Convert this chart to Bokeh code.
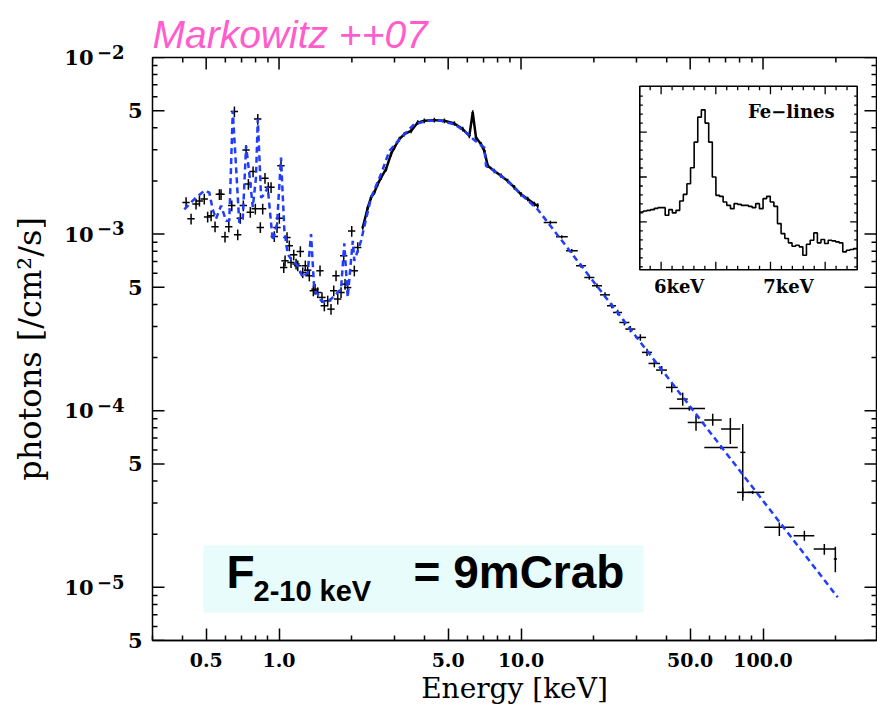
import math
from bokeh.plotting import figure
from bokeh.models import FixedTicker, Range1d, LinearScale, Label, BoxAnnotation, LogAxis
from bokeh.embed import file_html
from bokeh.resources import INLINE
from bokeh.core.properties import value

# ---------------- data ----------------
# model (blue dashed): energy [keV], photons/cm2/s
model_E = [0.406, 0.447, 0.491, 0.515, 0.532, 0.549, 0.576, 0.604, 0.623, 0.644,
           0.685, 0.708, 0.731, 0.754, 0.779, 0.803, 0.817, 0.843, 0.870, 0.898,
           0.942, 0.981, 1.019, 1.052, 1.086, 1.121, 1.195, 1.253, 1.314, 1.356,
           1.399, 1.445, 1.491, 1.564, 1.640, 1.720, 1.804, 1.861, 1.922, 2.017,
           2.047, 2.182, 2.40, 2.64, 2.857, 3.19, 3.62, 4.12, 4.67, 5.30,
           5.83, 6.22, 7.05, 7.17, 7.76, 8.81, 10.0, 11.72, 203.5]
model_F = [1.38e-3, 1.58e-3, 1.76e-3, 1.72e-3, 1.38e-3, 1.22e-3, 1.45e-3, 1.19e-3, 1.19e-3, 4.99e-3,
           1.16e-3, 1.22e-3, 3.16e-3, 2.19e-3, 1.42e-3, 2.09e-3, 4.48e-3, 1.61e-3, 1.68e-3, 1.84e-3,
           9.16e-4, 1.14e-3, 2.71e-3, 1.05e-3, 7.70e-4, 7.22e-4, 6.62e-4, 5.68e-4, 6.07e-4, 1.00e-3,
           4.78e-4, 4.57e-4, 4.20e-4, 4.10e-4, 4.29e-4, 4.57e-4, 4.89e-4, 8.87e-4, 4.38e-4, 9.16e-4,
           7.06e-4, 9.16e-4, 1.61e-3, 2.19e-3, 2.96e-3, 3.52e-3, 4.19e-3, 4.38e-3, 4.38e-3, 4.19e-3,
           3.84e-3, 3.52e-3, 3.09e-3, 2.43e-3, 2.28e-3, 2.00e-3, 1.68e-3, 1.38e-3, 8.78e-6]

# soft-band data points (crosses)
soft_E = [0.413, 0.433, 0.454, 0.469, 0.491, 0.507, 0.524, 0.544, 0.567, 0.576,
          0.598, 0.620, 0.638, 0.654, 0.675, 0.692, 0.712, 0.731, 0.747, 0.761,
          0.781, 0.798, 0.817, 0.837, 0.856, 0.875, 0.903, 0.927, 0.956, 0.981,
          1.003, 1.019, 1.046, 1.059, 1.079, 1.103, 1.121, 1.150, 1.176, 1.195,
          1.225, 1.253, 1.284, 1.314, 1.334, 1.386, 1.409, 1.445, 1.477, 1.505,
          1.539, 1.589, 1.640, 1.683, 1.720, 1.748, 1.804, 1.851, 1.874, 1.922,
          1.997, 2.047, 2.115]
soft_F = [1.51e-3, 1.22e-3, 1.48e-3, 1.54e-3, 1.58e-3, 1.25e-3, 1.27e-3, 1.10e-3, 1.68e-3, 1.68e-3,
          9.65e-4, 1.10e-3, 1.45e-3, 4.94e-3, 9.91e-4, 1.23e-3, 1.45e-3, 2.99e-3, 1.92e-3, 1.33e-3,
          2.26e-3, 1.39e-3, 4.48e-3, 1.09e-3, 1.39e-3, 2.07e-3, 1.84e-3, 1.84e-3, 9.69e-4, 1.09e-3,
          1.23e-3, 2.44e-3, 6.47e-4, 7.06e-4, 9.57e-4, 8.59e-4, 6.91e-4, 7.63e-4, 6.77e-4, 6.62e-4,
          7.97e-4, 6.06e-4, 6.62e-4, 6.25e-4, 5.81e-4, 4.78e-4, 4.88e-4, 4.67e-4, 6.20e-4, 4.38e-4,
          3.93e-4, 4.19e-4, 3.76e-4, 4.78e-4, 5.81e-4, 4.29e-4, 4.67e-4, 7.54e-4, 5.21e-4, 4.98e-4,
          1.04e-3, 6.20e-4, 8.40e-4]
SOFT_DE = 0.035   # relative half-width of energy bins
SOFT_DF = 0.07    # relative flux error

# 2-12 keV densely sampled data
dense_E = [2.218, 2.326, 2.400, 2.476, 2.558, 2.640, 2.768, 2.903, 2.995, 3.142,
           3.295, 3.512, 3.742, 3.985, 4.383, 4.822, 5.302, 5.742, 6.115, 6.316,
           6.517, 6.835, 7.052, 7.285, 7.757, 8.270, 8.812, 9.383, 10.00, 10.66,
           11.35, 11.72]
dense_F = [1.09e-3, 1.41e-3, 1.61e-3, 1.72e-3, 1.92e-3, 2.09e-3, 2.33e-3, 2.84e-3, 3.09e-3, 3.45e-3,
           3.68e-3, 3.84e-3, 4.28e-3, 4.38e-3, 4.42e-3, 4.38e-3, 4.23e-3, 3.93e-3, 3.60e-3, 4.88e-3,
           3.52e-3, 3.23e-3, 2.96e-3, 2.44e-3, 2.28e-3, 2.14e-3, 2.00e-3, 1.84e-3, 1.68e-3, 1.58e-3,
           1.48e-3, 1.45e-3]
DENSE_DE = 0.012
DENSE_DF = 0.03

# hard X-ray points with their error bars
hard_E   = [13.22, 14.73, 16.20, 17.70, 19.15, 20.61, 22.24, 23.71, 25.10, 26.73,
            28.30, 31.12, 33.17, 35.55, 38.14, 41.95, 46.57, 49.61, 52.86, 61.96,
            67.07, 73.27, 82.44, 82.44, 90.66, 116.8, 148.2, 179.2, 199.0]
hard_Elo = [12.41, 13.95, 15.35, 16.88, 18.26, 19.65, 21.21, 22.67, 24.00, 25.48,
            26.98, 29.60, 31.62, 33.64, 36.14, 39.73, 44.12, 41.01, 48.84, 57.20,
            57.20, 67.07, 80.58, 78.10, 86.47, 101.3, 133.9, 162.0, 196.0]
hard_Ehi = [14.09, 15.60, 17.16, 18.56, 20.09, 21.61, 23.32, 24.70, 26.15, 28.03,
            29.68, 32.85, 34.78, 37.53, 40.12, 44.41, 48.84, 57.58, 57.20, 67.50,
            78.62, 80.58, 84.52, 90.66, 101.3, 134.7, 162.9, 198.4, 202.2]
hard_F   = [1.163e-3, 9.65e-4, 8.04e-4, 6.62e-4, 5.68e-4, 5.10e-4, 4.53e-4, 3.93e-4, 3.60e-4, 3.16e-4,
            2.90e-4, 2.60e-4, 2.14e-4, 1.852e-4, 1.699e-4, 1.355e-4, 1.164e-4, 1.030e-4, 8.58e-5, 8.86e-5,
            6.20e-5, 7.88e-5, 5.81e-5, 3.45e-5, 3.45e-5, 2.19e-5, 1.962e-5, 1.650e-5, 1.448e-5]
hard_Flo = [1.14e-3, 9.45e-4, 7.85e-4, 6.45e-4, 5.52e-4, 4.95e-4, 4.38e-4, 3.80e-4, 3.47e-4, 3.04e-4,
            2.78e-4, 2.49e-4, 2.04e-4, 1.76e-4, 1.61e-4, 1.269e-4, 1.067e-4, 1.00e-4, 7.70e-5, 8.22e-5,
            6.05e-5, 6.48e-5, 3.23e-5, 3.09e-5, 3.38e-5, 1.954e-5, 1.838e-5, 1.531e-5, 1.216e-5]
hard_Fhi = [1.19e-3, 9.85e-4, 8.23e-4, 6.80e-4, 5.85e-4, 5.25e-4, 4.68e-4, 4.06e-4, 3.73e-4, 3.28e-4,
            3.02e-4, 2.71e-4, 2.24e-4, 1.94e-4, 1.79e-4, 1.446e-4, 1.266e-4, 1.06e-4, 9.37e-5, 9.62e-5,
            6.35e-5, 9.09e-5, 8.41e-5, 3.68e-5, 3.52e-5, 2.33e-5, 2.094e-5, 1.760e-5, 1.699e-5]

# inset: Fe-line region histogram (bin edges in keV, relative counts)
fe_edges = [5.805, 5.838, 5.871, 5.904, 5.938, 5.971, 6.004, 6.037, 6.070, 6.103,
            6.136, 6.170, 6.203, 6.236, 6.269, 6.302, 6.335, 6.368, 6.402, 6.435,
            6.468, 6.501, 6.534, 6.567, 6.600, 6.634, 6.667, 6.700, 6.733, 6.766,
            6.799, 6.832, 6.865, 6.899, 6.932, 6.965, 6.998, 7.031, 7.064, 7.097,
            7.131, 7.164, 7.197, 7.230, 7.263, 7.296, 7.329, 7.363, 7.396, 7.429,
            7.462, 7.495, 7.528, 7.561, 7.595, 7.628, 7.661, 7.694, 7.727, 7.760,
            7.793]
fe_counts = [55.0, 56.0, 56.6, 57.3, 58.6, 59.3, 59.3, 51.6, 57.3, 54.0,
             56.6, 66.0, 72.6, 83.3, 99.3, 125.0, 150.0, 157.3, 144.0, 125.0,
             90.0, 71.6, 70.6, 65.0, 61.6, 58.3, 63.3, 62.6, 61.6, 61.6,
             60.6, 59.3, 63.3, 58.3, 68.3, 70.6, 65.0, 60.6, 43.3, 33.3,
             28.3, 24.0, 20.6, 21.6, 20.0, 11.6, 22.6, 26.6, 34.0, 24.0,
             27.3, 23.3, 26.6, 26.0, 25.0, 24.0, 15.0, 16.6, 17.3, 18.3]
inset_x_range = (5.805, 7.793)
inset_y_range = (-3.0, 181.0)
inset_major_x = [6.0, 6.5, 7.0, 7.5]
inset_minor_x = [5.9, 6.1, 6.2, 6.3, 6.4, 6.6, 6.7, 6.8, 6.9, 7.1, 7.2, 7.3, 7.4, 7.6, 7.7]
inset_major_y = [45, 90, 135]
inset_minor_y = [0, 9, 18, 27, 36, 54, 63, 72, 81, 99, 108, 117, 126, 144, 153, 162, 171]
inset_label_x = [6.0, 7.0]
inset_labels = ["6keV", "7keV"]

# axes ticks
x_tick_values = [0.5, 1.0, 5.0, 10.0, 50.0, 100.0]
x_tick_labels = ["0.5", "1.0", "5.0", "10.0", "50.0", "100.0"]
y_decade_values = [1e-2, 1e-3, 1e-4, 1e-5]
y_decade_base = ["10", "10", "10", "10"]
y_decade_exp = ["\u22122", "\u22123", "\u22124", "\u22125"]
y_half_values = [5e-3, 5e-4, 5e-5, 5e-6]
y_half_labels = ["5", "5", "5", "5"]
X_RANGE = (0.3, 294.4)
Y_RANGE = (5e-6, 1e-2)

# ---------------- layout constants ----------------
W, H = 877, 717
FL, FR, FT, FB = 152, 876, 57, 640            # frame edges (px)
IL, IR, IT, IB = 639.3, 856.7, 85.7, 269.3    # inset box (px)
SERIF = "DejaVu Serif"
SANS = "Liberation Sans"
BLUE = "#1f3cff"
PINK = "#ff5ccd"
MAJ, MIN = 12, 5                               # tick lengths (px)

p = figure(width=W, height=H, x_axis_type="log", y_axis_type="log",
           x_range=Range1d(*X_RANGE), y_range=Range1d(*Y_RANGE),
           output_backend="svg", toolbar_location=None,
           min_border_left=FL, min_border_right=W - FR,
           min_border_top=FT, min_border_bottom=H - FB)
p.xgrid.visible = False
p.ygrid.visible = False
p.background_fill_color = "white"
p.border_fill_color = "white"
p.outline_line_color = "black"
p.outline_line_width = 1.5

p.title.text = "Markowitz ++07"
p.title.text_font = SANS
p.title.text_font_style = "italic"
p.title.text_font_size = "39px"
p.title.text_color = PINK
p.title.align = "left"
p.title.standoff = 3
p.title.offset = 0

y_major_all = sorted(y_decade_values + y_half_values)
x_minor = [m * 10.0 ** d for d in (-1, 0, 1, 2) for m in (2, 3, 4, 6, 7, 8, 9)]
y_minor = [m * 10.0 ** d for d in (-6, -5, -4, -3) for m in (2, 3, 4, 6, 7, 8, 9)]
x_minor = [t for t in x_minor if X_RANGE[0] <= t <= X_RANGE[1] and t not in x_tick_values]
y_minor = [t for t in y_minor if Y_RANGE[0] <= t <= Y_RANGE[1] and t not in y_major_all]

xb = p.xaxis[0]
xb.ticker = FixedTicker(ticks=x_tick_values, minor_ticks=x_minor)
xb.major_label_overrides = dict(zip(x_tick_values, x_tick_labels))
xb.major_label_text_font = SERIF
xb.major_label_text_font_style = "bold"
xb.major_label_text_font_size = "19px"
xb.major_label_text_color = "black"
xb.major_label_standoff = 12
xb.axis_label = "Energy [keV]"
xb.axis_label_text_font = SERIF
xb.axis_label_text_font_style = "normal"
xb.axis_label_text_font_size = "28px"
xb.axis_label_text_color = "black"
xb.axis_label_standoff = 2
xb.major_tick_in = MAJ
xb.major_tick_out = 0
xb.minor_tick_in = MIN
xb.minor_tick_out = 0
xb.major_tick_line_width = 1.5
xb.minor_tick_line_width = 1.5
xb.axis_line_width = 1.5


def label_axis(ax, ticks, labels, size, standoff, line_height=1.2):
    ax.ticker = FixedTicker(ticks=ticks)
    ax.major_label_overrides = dict(zip(ticks, labels))
    ax.major_label_text_font = SERIF
    ax.major_label_text_font_style = "bold"
    ax.major_label_text_font_size = size
    ax.major_label_text_color = "black"
    ax.major_label_text_line_height = line_height
    ax.major_label_standoff = standoff
    ax.major_tick_in = 0
    ax.major_tick_out = 0
    ax.minor_tick_in = 0
    ax.minor_tick_out = 0
    ax.major_tick_line_color = None
    ax.minor_tick_line_color = None
    ax.axis_line_color = None


# left: three stacked label columns -> "10", raised exponent, "5"
yA = p.yaxis[0]
label_axis(yA, y_half_values, y_half_labels, "21px", 10)
yB = LogAxis()
# exponent drawn as the upper line of a two-line label so that it sits raised
label_axis(yB, y_decade_values, [e + "\n\u00a0" for e in y_decade_exp], "18px", 0, line_height=0.5)
p.add_layout(yB, "left")
yC = LogAxis()
label_axis(yC, y_decade_values, y_decade_base, "21px", 0)
yC.axis_label = "photons [/cm\u00b2/s]"
yC.axis_label_text_font = SERIF
yC.axis_label_text_font_style = "normal"
yC.axis_label_text_font_size = "32px"
yC.axis_label_text_color = "black"
yC.axis_label_standoff = 12
p.add_layout(yC, "left")

# inward ticks on the left, top and right frame edges
px_dec_x = (FR - FL) / math.log10(X_RANGE[1] / X_RANGE[0])
px_dec_y = (FB - FT) / math.log10(Y_RANGE[1] / Y_RANGE[0])
for ticks, L in ((x_tick_values, MAJ), (x_minor, MIN)):
    f = 10 ** (-L / px_dec_y)
    p.segment(ticks, [Y_RANGE[1]] * len(ticks), ticks, [Y_RANGE[1] * f] * len(ticks),
              line_color="black", line_width=1.5)
for ticks, L in ((y_major_all, MAJ), (y_minor, MIN)):
    f = 10 ** (-L / px_dec_x)
    p.segment([X_RANGE[1]] * len(ticks), ticks, [X_RANGE[1] * f] * len(ticks), ticks,
              line_color="black", line_width=1.5)
    p.segment([X_RANGE[0]] * len(ticks), ticks, [X_RANGE[0] / f] * len(ticks), ticks,
              line_color="black", line_width=1.5)

# flux box
p.add_layout(BoxAnnotation(left=203 - FL, right=643 - FL, bottom=FB - 612, top=FB - 545,
                           left_units="screen", right_units="screen",
                           bottom_units="screen", top_units="screen",
                           fill_color="#e8fcfc", fill_alpha=1.0, line_color=None,
                           level="underlay"))
p.add_layout(Label(x=226 - FL, y=FB - 571, x_units="screen", y_units="screen", text="F",
                   text_font=SANS, text_font_style="bold", text_font_size="46px",
                   text_color="black", text_baseline="alphabetic"))
p.add_layout(Label(x=253 - FL, y=FB - 590, x_units="screen", y_units="screen", text="2-10 keV",
                   text_font=SANS, text_font_style="bold", text_font_size="29px",
                   text_color="black", text_baseline="alphabetic"))
p.add_layout(Label(x=413 - FL, y=FB - 571, x_units="screen", y_units="screen", text="= 9mCrab",
                   text_font=SANS, text_font_style="bold", text_font_size="46px",
                   text_color="black", text_baseline="alphabetic"))

# ---------------- data marks ----------------
CW = 1.5
p.segment([e * (1 - SOFT_DE) for e in soft_E], soft_F, [e * (1 + SOFT_DE) for e in soft_E], soft_F,
          line_color="black", line_width=CW)
p.segment(soft_E, [f * (1 - SOFT_DF) for f in soft_F], soft_E, [f * (1 + SOFT_DF) for f in soft_F],
          line_color="black", line_width=CW)
p.line(dense_E, dense_F, line_color="black", line_width=2.5)
p.segment([e * (1 - DENSE_DE) for e in dense_E], dense_F, [e * (1 + DENSE_DE) for e in dense_E], dense_F,
          line_color="black", line_width=CW)
p.segment(dense_E, [f * (1 - DENSE_DF) for f in dense_F], dense_E, [f * (1 + DENSE_DF) for f in dense_F],
          line_color="black", line_width=CW)
p.segment(hard_Elo, hard_F, hard_Ehi, hard_F, line_color="black", line_width=CW)
p.segment(hard_E, hard_Flo, hard_E, hard_Fhi, line_color="black", line_width=CW)

p.line(model_E, model_F, line_color=BLUE, line_width=2.5, line_dash="6 4")

# ---------------- inset (Fe lines) ----------------
kx = (inset_x_range[1] - inset_x_range[0]) / (IR - IL)   # keV per px
ky = (inset_y_range[1] - inset_y_range[0]) / (IB - IT)   # counts per px
p.extra_x_ranges = {"ix": Range1d(inset_x_range[0] - (IL - FL) * kx, inset_x_range[1] + (FR - IR) * kx)}
p.extra_y_ranges = {"iy": Range1d(inset_y_range[0] - (FB - IB) * ky, inset_y_range[1] + (IT - FT) * ky)}
p.extra_x_scales = {"ix": LinearScale()}
p.extra_y_scales = {"iy": LinearScale()}
R = dict(x_range_name="ix", y_range_name="iy")

p.quad(left=[inset_x_range[0]], right=[inset_x_range[1]], bottom=[inset_y_range[0]],
       top=[inset_y_range[1]], fill_color="white", line_color="black", line_width=1.6, **R)

sx, sy = [], []
for i, c in enumerate(fe_counts):
    sx += [fe_edges[i], fe_edges[i + 1]]
    sy += [c, c]
p.line(sx, sy, line_color="black", line_width=1.6, **R)

y0, y1 = inset_y_range
x0, x1 = inset_x_range
for ticks, L in ((inset_major_x, 8), (inset_minor_x, 4)):
    p.segment(ticks, [y0] * len(ticks), ticks, [y0 + L * ky] * len(ticks), line_color="black", line_width=1.3, **R)
    p.segment(ticks, [y1] * len(ticks), ticks, [y1 - L * ky] * len(ticks), line_color="black", line_width=1.3, **R)
for ticks, L in ((inset_major_y, 7), (inset_minor_y, 3)):
    p.segment([x0] * len(ticks), ticks, [x0 + L * kx] * len(ticks), ticks, line_color="black", line_width=1.3, **R)
    p.segment([x1] * len(ticks), ticks, [x1 - L * kx] * len(ticks), ticks, line_color="black", line_width=1.3, **R)

p.text(x=inset_label_x, y=[y0] * len(inset_label_x), text=inset_labels, x_offset=18, y_offset=6,
       text_align="center", text_baseline="top", text_font=value(SERIF), text_font_style="bold",
       text_font_size="18px", text_color="black", **R)
p.text(x=[7.19], y=[155.7], text=["Fe\u2212lines"], text_align="center", text_baseline="middle",
       text_font=value(SERIF), text_font_style="bold", text_font_size="18px", text_color="black", **R)

open("out.html", "w").write(file_html(p, INLINE))
